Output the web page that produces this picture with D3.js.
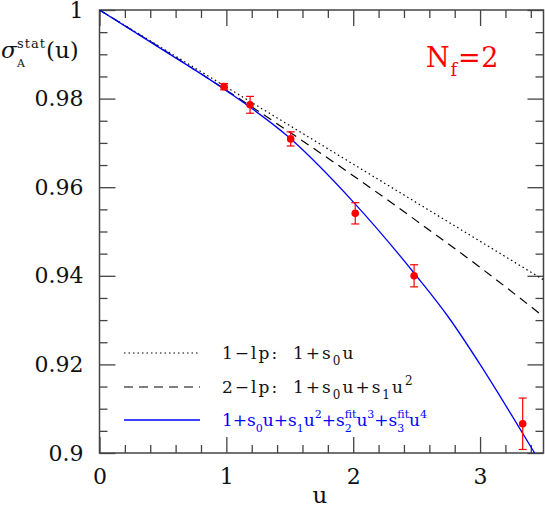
<!DOCTYPE html>
<html>
<head>
<meta charset="utf-8">
<script src="https://cdn.jsdelivr.net/npm/d3@7"></script>
<style>
  body { margin: 0; background: #fff; }
  svg text { font-family: "DejaVu Serif", serif; }
</style>
</head>
<body>
<svg id="chart"></svg>
<script>
// data points with errors
const pointU = [0.982, 1.187, 1.507, 2.016, 2.480, 3.336];
const pointV = [0.9827, 0.9786, 0.9709, 0.9541, 0.9400, 0.9066];
const pointErr = [0.0007, 0.0019, 0.0016, 0.0024, 0.0025, 0.0058];

// 1-loop line
const lp1U = [0, 3.5];
const lp1V = [1, 0.9391];

// 2-loop curve
const lp2U = [0, 0.5, 1, 1.5, 2, 2.5, 3, 3.5];
const lp2V = [1, 0.9911, 0.9819, 0.9724, 0.9626, 0.9524, 0.9419, 0.9308];

// fit curve
const fitU = [0, 0.5, 1.0, 1.5, 2.0, 2.5, 2.75, 3.0, 3.25, 3.43];
const fitV = [1, 0.9910, 0.9818, 0.9711, 0.9567, 0.9399, 0.9307, 0.9200, 0.9085, 0.9000];

const xMajor = [0, 1, 2, 3];
const yMajor = [0.9, 0.92, 0.94, 0.96, 0.98, 1];

const W = 545, H = 509;
const pLeft = 99.5, pRight = 543.5, pTop = 10, pBottom = 453;

const svg = d3.select('#chart').attr('width', W).attr('height', H);

const x = d3.scaleLinear().domain([0, 3.5]).range([pLeft, pRight]);
const y = d3.scaleLinear().domain([0.9, 1]).range([pBottom, pTop]);

const xMinor = d3.range(1, 18).map(i => i * 0.2).filter(v => Math.abs(v - Math.round(v)) > 1e-6);
const yMinor = d3.range(1, 20).map(i => 0.9 + i * 0.005).filter(v => Math.abs(v * 50 - Math.round(v * 50)) > 1e-6);

svg.append('defs').append('clipPath').attr('id', 'clip')
    .append('rect').attr('x', pLeft).attr('y', pTop).attr('width', pRight - pLeft).attr('height', pBottom - pTop);

const axisColor = '#444';

function styleAxis(g) {
    g.select('.domain').remove();
    g.selectAll('line').attr('stroke', axisColor).attr('stroke-width', 1.3);
    g.selectAll('text').attr('font-family', 'DejaVu Serif').attr('font-size', 22).attr('fill', '#111');
}

// bottom
svg.append('g').attr('transform', `translate(0,${pBottom})`)
    .call(d3.axisBottom(x).tickValues(xMajor).tickSize(-16).tickPadding(15).tickFormat(d3.format('d')))
    .call(styleAxis);
svg.append('g').attr('transform', `translate(0,${pBottom})`)
    .call(d3.axisBottom(x).tickValues(xMinor).tickSize(-8).tickFormat(''))
    .call(styleAxis);
// top
svg.append('g').attr('transform', `translate(0,${pTop})`)
    .call(d3.axisTop(x).tickValues(xMajor).tickSize(-16).tickFormat(''))
    .call(styleAxis);
svg.append('g').attr('transform', `translate(0,${pTop})`)
    .call(d3.axisTop(x).tickValues(xMinor).tickSize(-8).tickFormat(''))
    .call(styleAxis);
// left
svg.append('g').attr('transform', `translate(${pLeft},0)`)
    .call(d3.axisLeft(y).tickValues(yMajor).tickSize(-16).tickPadding(16).tickFormat(d => d === 1 ? '1' : d3.format('.2~f')(d)))
    .call(styleAxis);
svg.append('g').attr('transform', `translate(${pLeft},0)`)
    .call(d3.axisLeft(y).tickValues(yMinor).tickSize(-8).tickFormat(''))
    .call(styleAxis);
// right
svg.append('g').attr('transform', `translate(${pRight},0)`)
    .call(d3.axisRight(y).tickValues(yMajor).tickSize(-16).tickFormat(''))
    .call(styleAxis);
svg.append('g').attr('transform', `translate(${pRight},0)`)
    .call(d3.axisRight(y).tickValues(yMinor).tickSize(-8).tickFormat(''))
    .call(styleAxis);

// frame
svg.append('rect').attr('x', pLeft).attr('y', pTop).attr('width', pRight - pLeft).attr('height', pBottom - pTop)
    .attr('fill', 'none').attr('stroke', axisColor).attr('stroke-width', 1.5);

// curves
const plot = svg.append('g').attr('clip-path', 'url(#clip)');
const lineGen = d3.line().x(d => x(d[0])).y(d => y(d[1]));
const curveGen = d3.line().x(d => x(d[0])).y(d => y(d[1])).curve(d3.curveMonotoneX);

plot.append('path').datum(lp1U.map((u, i) => [u, lp1V[i]]))
    .attr('d', lineGen).attr('fill', 'none').attr('stroke', '#000').attr('stroke-width', 1.2)
    .attr('stroke-dasharray', '1.5,3');
plot.append('path').datum(lp2U.map((u, i) => [u, lp2V[i]]))
    .attr('d', curveGen).attr('fill', 'none').attr('stroke', '#000').attr('stroke-width', 1.2)
    .attr('stroke-dasharray', '9,6');
plot.append('path').datum(fitU.map((u, i) => [u, fitV[i]]))
    .attr('d', curveGen).attr('fill', 'none').attr('stroke', '#0000ff').attr('stroke-width', 1.3);

// data points
const pts = pointU.map((u, i) => ({ u: u, v: pointV[i], e: pointErr[i] }));
const pg = svg.append('g');
pg.selectAll('.err').data(pts).enter().append('line')
    .attr('x1', d => x(d.u)).attr('x2', d => x(d.u))
    .attr('y1', d => y(d.v - d.e)).attr('y2', d => y(d.v + d.e))
    .attr('stroke', 'red').attr('stroke-width', 1.2);
pg.selectAll('.capT').data(pts).enter().append('line')
    .attr('x1', d => x(d.u) - 4).attr('x2', d => x(d.u) + 4)
    .attr('y1', d => y(d.v + d.e)).attr('y2', d => y(d.v + d.e))
    .attr('stroke', 'red').attr('stroke-width', 1.2);
pg.selectAll('.capB').data(pts).enter().append('line')
    .attr('x1', d => x(d.u) - 4).attr('x2', d => x(d.u) + 4)
    .attr('y1', d => y(d.v - d.e)).attr('y2', d => y(d.v - d.e))
    .attr('stroke', 'red').attr('stroke-width', 1.2);
pg.selectAll('circle').data(pts).enter().append('circle')
    .attr('cx', d => x(d.u)).attr('cy', d => y(d.v)).attr('r', 3.8).attr('fill', 'red');

// rich text helper: one <text> with absolutely placed tspans
// segments: 'str' | ['sub', a] | ['sup', a] | ['subsup', a, b] | ['at', xpos]
function richText(g, x0, y0, segs, size, color, small, ls) {
    ls = ls || 0;
    const tmp = g.append('text').attr('letter-spacing', ls);
    const width = (t, fs) => {
        tmp.attr('font-size', fs).text(t);
        return tmp.node().getComputedTextLength();
    };
    const pieces = [];
    let cx = x0;
    segs.forEach(s => {
        if (typeof s === 'string') {
            pieces.push({ t: s, x: cx, y: y0, fs: size });
            cx += width(s, size);
        } else if (s[0] === 'at') {
            cx = s[1];
        } else if (s[0] === 'sub') {
            pieces.push({ t: s[1], x: cx, y: y0 + size * 0.35, fs: small });
            cx += width(s[1], small);
        } else if (s[0] === 'sup') {
            pieces.push({ t: s[1], x: cx, y: y0 - size * 0.45, fs: small });
            cx += width(s[1], small);
        } else if (s[0] === 'subsup') {
            pieces.push({ t: s[1], x: cx, y: y0 + size * 0.35, fs: small });
            pieces.push({ t: s[2], x: cx, y: y0 - size * 0.5, fs: small });
            cx += Math.max(width(s[1], small), width(s[2], small));
        }
    });
    tmp.remove();
    const txt = g.append('text').attr('fill', color).attr('letter-spacing', ls);
    pieces.forEach(p => txt.append('tspan').attr('x', p.x).attr('y', p.y).attr('font-size', p.fs).text(p.t));
    return txt;
}

// y axis title
richText(svg.append('g'), 1, 58, ['σ'], 23, '#111', 12).attr('font-style', 'italic');
const yt = svg.append('text').attr('fill', '#111');
yt.append('tspan').attr('x', 17).attr('y', 48).attr('font-size', 13).attr('letter-spacing', 1).text('stat');
yt.append('tspan').attr('x', 17).attr('y', 67).attr('font-size', 11).attr('letter-spacing', 0).text('A');
yt.append('tspan').attr('x', 46).attr('y', 58).attr('font-size', 23).attr('letter-spacing', 0).text('(u)');

// x axis title
svg.append('text').attr('x', 320).attr('y', 503).attr('text-anchor', 'middle').attr('font-size', 23).attr('fill', '#111').text('u');

// Nf = 2
richText(svg.append('g'), 426, 67, ['N', ['sub', 'f'], '=2'], 27, 'red', 18, 0.8);

// legend
const legG = svg.append('g');
const legY = [353, 387, 420];
legG.append('line').attr('x1', 124).attr('x2', 200).attr('y1', legY[0]).attr('y2', legY[0])
    .attr('stroke', '#000').attr('stroke-width', 1.2).attr('stroke-dasharray', '1.5,3');
legG.append('line').attr('x1', 124).attr('x2', 200).attr('y1', legY[1]).attr('y2', legY[1])
    .attr('stroke', '#000').attr('stroke-width', 1.2).attr('stroke-dasharray', '9,6');
legG.append('line').attr('x1', 124).attr('x2', 200).attr('y1', legY[2]).attr('y2', legY[2])
    .attr('stroke', '#0000ff').attr('stroke-width', 1.3);

richText(legG, 222, legY[0] + 6, ['1−lp:', ['at', 293], '1+s', ['sub', '0'], 'u'], 17, '#111', 12, 2);
richText(legG, 222, legY[1] + 6, ['2−lp:', ['at', 293], '1+s', ['sub', '0'], 'u+s', ['sub', '1'], 'u', ['sup', '2']], 17, '#111', 12, 2);
richText(legG, 222, legY[2] + 6, ['1+s', ['sub', '0'], 'u+s', ['sub', '1'], 'u', ['sup', '2'], '+s',
    ['subsup', '2', 'fit'], 'u', ['sup', '3'], '+s', ['subsup', '3', 'fit'], 'u', ['sup', '4']], 17, '#0000ff', 11);
</script>
</body>
</html>
